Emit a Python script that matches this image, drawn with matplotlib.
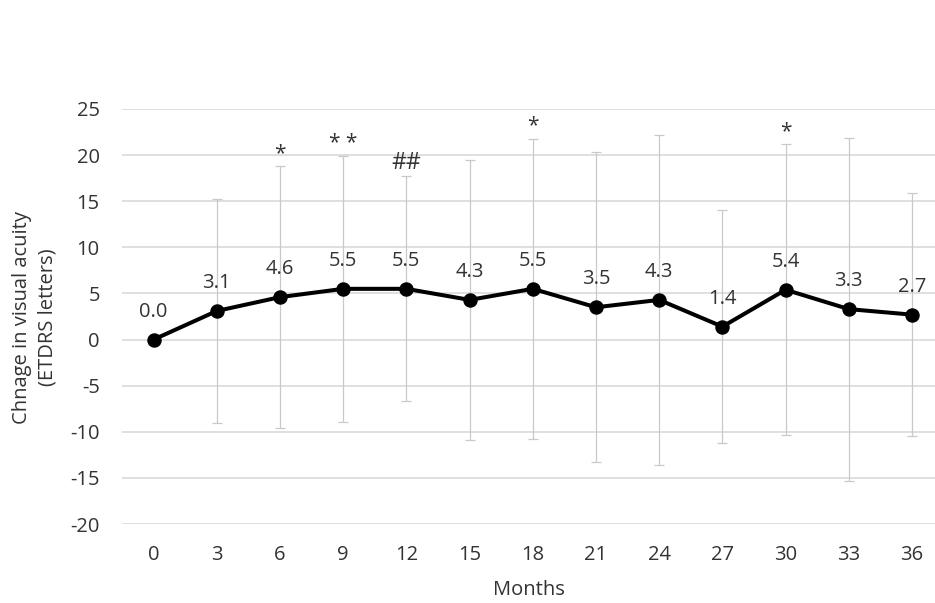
import numpy as np
import matplotlib
matplotlib.use("Agg")
import matplotlib.pyplot as plt

plt.rcParams['font.family'] = ['Open Sans', 'DejaVu Sans']
plt.rcParams['axes.unicode_minus'] = False

months = [0, 3, 6, 9, 12, 15, 18, 21, 24, 27, 30, 33, 36]
mean_change = [0.0, 3.1, 4.6, 5.5, 5.5, 4.3, 5.5, 3.5, 4.3, 1.4, 5.4, 3.3, 2.7]
sd_change = [0.0, 12.1, 14.2, 14.4, 12.2, 15.2, 16.3, 16.8, 17.9, 12.6, 15.8, 18.6, 13.2]
significance = {6: "*", 9: "* *", 12: "##", 18: "*", 30: "*"}
y_ticks = [-20, -15, -10, -5, 0, 5, 10, 15, 20, 25]

TEXT = "#333333"
FS = 14.5

fig = plt.figure(figsize=(9.35, 6.03), dpi=100)
ax = fig.add_axes([122 / 935, 1 - 524 / 603, 1 - 122 / 935, (524 - 109) / 603])

pos = np.arange(len(months))

ax.errorbar(pos, mean_change, yerr=sd_change, fmt="none", ecolor="#c9c9c9",
            elinewidth=0.9, capsize=3.6, capthick=0.9, zorder=2)
ax.plot(pos, mean_change, color="black", lw=2.9, marker="o", ms=9.4, zorder=3)

for p, m in zip(pos, mean_change):
    ax.annotate(f"{m:.1f}", (p, m), xytext=(0, 20), textcoords="offset points",
                ha="center", va="center", fontsize=FS, color=TEXT)

for p, mo, m, s in zip(pos, months, mean_change, sd_change):
    if mo in significance:
        mark = significance[mo]
        if mark.startswith("#"):
            ax.annotate(mark, (p, m + s), xytext=(0, 5.5), textcoords="offset points",
                        ha="center", va="baseline", fontsize=16.5, color=TEXT)
        else:
            ax.annotate(mark, (p, m + s), xytext=(0, 5), textcoords="offset points",
                        ha="center", va="baseline", fontsize=15, color=TEXT)

ax.set_xlim(-0.5, (935 - 154) / 63.17)
ax.set_ylim(-20, 25)
ax.set_yticks(y_ticks)
ax.set_xticks(pos)
ax.set_xticklabels([str(m) for m in months])
ax.yaxis.grid(True, color="#d9d9d9", lw=1.2)
ax.set_axisbelow(True)
for sp in ax.spines.values():
    sp.set_visible(False)
ax.tick_params(axis="both", length=0, labelsize=FS, colors=TEXT)
ax.tick_params(axis="x", pad=15)
ax.tick_params(axis="y", pad=16)

ax.set_xlabel("Months", fontsize=FS, color=TEXT, labelpad=11)
fig.text(35 / 935, 1 - 317 / 603, "Chnage in visual acuity\n(ETDRS letters)",
         rotation=90, ha="center", va="center", fontsize=FS, color=TEXT,
         linespacing=1.35)

fig.savefig("out.png", dpi=100, facecolor="white")
